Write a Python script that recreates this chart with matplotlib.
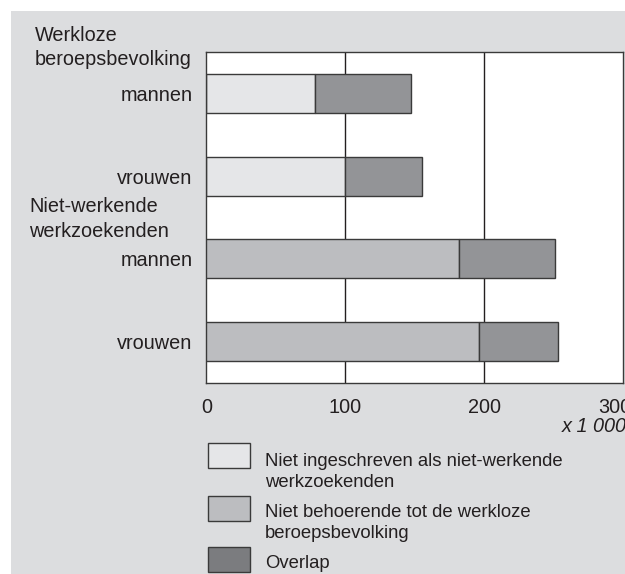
import matplotlib
matplotlib.use('Agg')
import matplotlib.pyplot as plt
import matplotlib.transforms as mtransforms
from matplotlib.patches import Rectangle

plt.rcParams['font.family'] = ['Liberation Sans', 'DejaVu Sans']

# gegevens (x 1 000)
categorieen = ['mannen', 'vrouwen', 'mannen', 'vrouwen']
groepen = ['Werkloze\nberoepsbevolking', 'Niet-werkende\nwerkzoekenden']
niet_ingeschreven = [78, 100, 0, 0]
niet_behoerend = [0, 0, 182, 196]
overlap = [69, 55, 69, 57]
x_ticks = [0, 100, 200, 300]
legenda = ['Niet ingeschreven als niet-werkende\nwerkzoekenden',
           'Niet behoerende tot de werkloze\nberoepsbevolking',
           'Overlap']

W, H = 625, 574
tekst = '#231f20'
c_licht = '#e5e6e8'
c_midden = '#bcbdc0'
c_donker = '#939497'
c_legenda_donker = '#7b7c7f'
rand = '#3a3a3a'


def fx(px):
    return px / W


def fy(py):
    return 1 - py / H


fig = plt.figure(figsize=(W / 100, H / 100), dpi=100)
fig.patch.set_facecolor('white')
# grijze achtergrond
fig.patches.append(Rectangle((fx(11), 0), 1, fy(11), transform=fig.transFigure,
                             facecolor='#dcdddf', edgecolor='none', zorder=-10))

ax = fig.add_axes([fx(206.3), fy(383), fx(623.3) - fx(206.3), fy(52) - fy(383)])
ax.set_facecolor('white')

y = list(range(len(categorieen)))
links = [a + b for a, b in zip(niet_ingeschreven, niet_behoerend)]
ax.barh(y, niet_ingeschreven, height=0.47, color=c_licht, edgecolor=rand, linewidth=1, zorder=3)
ax.barh(y, niet_behoerend, height=0.47, color=c_midden, edgecolor=rand, linewidth=1, zorder=3)
ax.barh(y, overlap, left=links, height=0.47, color=c_donker, edgecolor=rand, linewidth=1, zorder=3)

for v in x_ticks[1:-1]:
    ax.axvline(v, color=tekst, linewidth=1, zorder=1)

ax.set_xlim(0, 300)
ax.set_ylim(3.5, -0.5)
ax.set_xticks(x_ticks)
ax.set_xticklabels([str(t) for t in x_ticks])
ax.set_yticks(y)
ax.set_yticklabels(categorieen)
ax.tick_params(axis='both', length=0, labelsize=14.3, colors=tekst)
ax.tick_params(axis='x', pad=11)
ax.tick_params(axis='y', pad=10)
for s in ax.spines.values():
    s.set_color(rand)
    s.set_linewidth(1)

# laatste ticklabel iets naar links, zoals in het origineel
laatste = ax.get_xticklabels()[-1]
laatste.set_transform(laatste.get_transform() +
                      mtransforms.ScaledTranslation(-9 / 100, 0, fig.dpi_scale_trans))

# groepskoppen
fig.text(fx(35), fy(47.5), groepen[0], ha='left', va='center', fontsize=14.3,
         color=tekst, linespacing=1.35)
fig.text(fx(29), fy(219), groepen[1], ha='left', va='center', fontsize=14.3,
         color=tekst, linespacing=1.35)

fig.text(fx(627), fy(426), 'x 1 000', ha='right', va='center', fontsize=14.3,
         style='italic', color=tekst)

# legenda
legenda_kleuren = [c_licht, c_midden, c_legenda_donker]
box_top = [443, 496, 547]
tekst_y = [471.7, 523.4, 563.3]
for kleur, top, ty, label in zip(legenda_kleuren, box_top, tekst_y, legenda):
    fig.patches.append(Rectangle((fx(208.3), fy(top + 25)), fx(42), 25 / H,
                                 transform=fig.transFigure, facecolor=kleur,
                                 edgecolor=rand, linewidth=1))
    fig.text(fx(265), fy(ty), label, ha='left', va='center', fontsize=13.3,
             color=tekst, linespacing=1.3)

fig.savefig('out.png', dpi=100)
